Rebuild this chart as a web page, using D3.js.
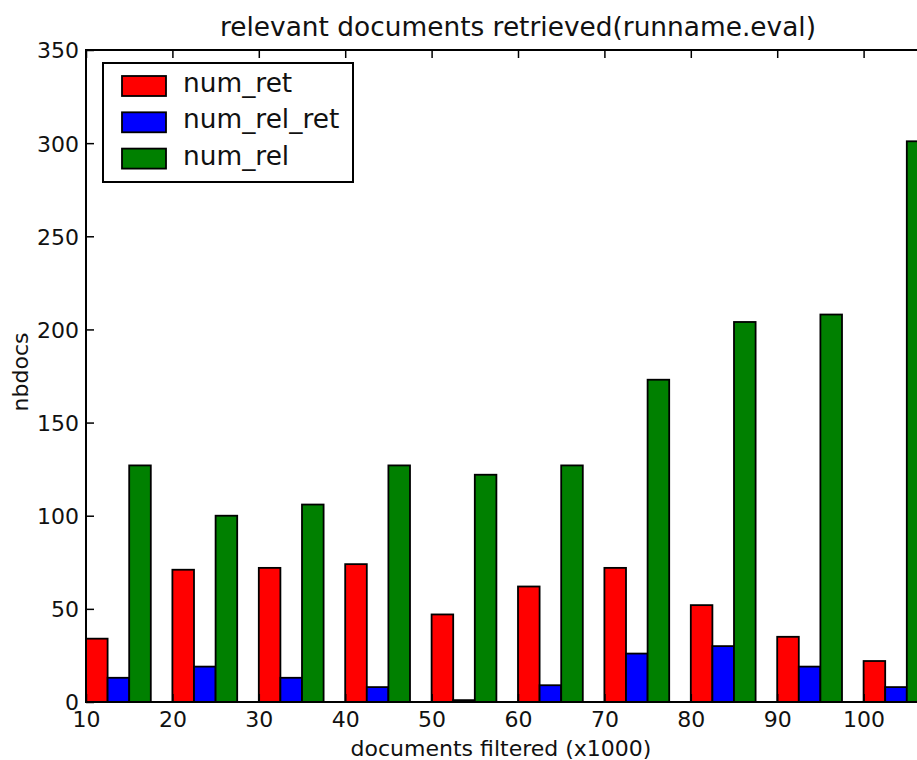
<!DOCTYPE html>
<html>
<head>
<meta charset="utf-8">
<script src="https://cdn.jsdelivr.net/npm/d3@7"></script>
<style>
    body { margin: 0; background: #fff; }
    svg { display: block; }
    text { font-family: "DejaVu Sans", Verdana, sans-serif; fill: #111; }
    .tick line { stroke: #000; stroke-width: 1.5; }
    .bar { stroke: #000; stroke-width: 1.8; }
</style>
</head>
<body>
<svg id="vis" width="917" height="760"></svg>
<script>
/**
 * magic numbers for the axes box (right side runs off the picture)
 */
const MARGINS = {top: 50, right: -33, bottom: 58, left: 86};

// x positions of each group (documents filtered, x1000)
const GROUPS = [10, 20, 30, 40, 50, 60, 70, 80, 90, 100];

// series
const NUM_RET     = [34, 71, 72, 74, 47, 62, 72, 52, 35, 22];
const NUM_REL_RET = [13, 19, 13, 8, 1, 9, 26, 30, 19, 8];
const NUM_REL     = [127, 100, 106, 127, 122, 127, 173, 204, 208, 301];

const SERIES = ["num_ret", "num_rel_ret", "num_rel"];
const COLORS = ["#ff0000", "#0000ff", "#008000"];

const X_TICKS = [10, 20, 30, 40, 50, 60, 70, 80, 90, 100];
const Y_TICKS = [0, 50, 100, 150, 200, 250, 300, 350];

const BAR_W = 2.5;   // bar width in data units

window.onload = function(){
    setup();
};

var _vis;

function setup(){
    _vis = {};
    _vis.svg = d3.select("#vis");
    _vis.width = +_vis.svg.attr("width");
    _vis.height = +_vis.svg.attr("height");

    _vis.x = d3.scaleLinear()
        .domain([10, 110])
        .range([MARGINS.left, _vis.width - MARGINS.right]);
    _vis.y = d3.scaleLinear()
        .domain([0, 350])
        .range([_vis.height - MARGINS.bottom, MARGINS.top]);

    drawBars();
    drawAxes();
    drawLegend();
}

function drawBars(){
    var values = [NUM_RET, NUM_REL_RET, NUM_REL];
    var rows = [];
    GROUPS.forEach(function(g, i){
        values.forEach(function(v, s){
            rows.push({x: g + s * BAR_W, v: v[i], s: s});
        });
    });

    _vis.svg.append("g").selectAll("rect")
        .data(rows)
        .enter()
        .append("rect")
        .attr("class", "bar")
        .attr("x", function(d){ return _vis.x(d.x); })
        .attr("width", function(d){ return _vis.x(d.x + BAR_W) - _vis.x(d.x); })
        .attr("y", function(d){ return _vis.y(d.v); })
        .attr("height", function(d){ return _vis.y(0) - _vis.y(d.v); })
        .style("fill", function(d){ return COLORS[d.s]; });
}

function drawAxes(){
    var x0 = _vis.x.range()[0], x1 = _vis.x.range()[1];
    var y0 = _vis.y.range()[0], y1 = _vis.y.range()[1];

    // ticks point inwards, matplotlib style
    var bottom = _vis.svg.append("g")
        .attr("transform", `translate(0, ${y0})`)
        .call(d3.axisBottom(_vis.x).tickValues(X_TICKS).tickSize(-8).tickPadding(9)
            .tickFormat(d3.format("d")));
    var top = _vis.svg.append("g")
        .attr("transform", `translate(0, ${y1})`)
        .call(d3.axisTop(_vis.x).tickValues(X_TICKS).tickSize(-8).tickFormat(""));
    var left = _vis.svg.append("g")
        .attr("transform", `translate(${x0}, 0)`)
        .call(d3.axisLeft(_vis.y).tickValues(Y_TICKS).tickSize(-8).tickPadding(7));

    [bottom, top, left].forEach(function(a){
        a.select(".domain").remove();
        a.selectAll("text").style("font-size", "22px").style("font-family", "DejaVu Sans").attr("fill", "#111");
    });
    left.selectAll("text").attr("dy", "0.36em");

    // the axes frame
    _vis.svg.append("rect")
        .attr("x", x0).attr("y", y1)
        .attr("width", x1 - x0).attr("height", y0 - y1)
        .style("fill", "none").style("stroke", "#000").style("stroke-width", 2);

    _vis.svg.append("text")
        .attr("x", 518).attr("y", 36)
        .style("text-anchor", "middle").style("font-size", "26.4px")
        .text("relevant documents retrieved(runname.eval)");

    _vis.svg.append("text")
        .attr("x", 501).attr("y", 756)
        .style("text-anchor", "middle").style("font-size", "22px")
        .text("documents filtered (x1000)");

    _vis.svg.append("text")
        .attr("transform", "translate(28, 372) rotate(-90)")
        .style("text-anchor", "middle").style("font-size", "22px")
        .text("nbdocs");
}

function drawLegend(){
    var lg = _vis.svg.append("g")
        .attr("transform", "translate(103, 63)");

    lg.append("rect")
        .attr("width", 250).attr("height", 119)
        .style("fill", "#fff").style("stroke", "#000").style("stroke-width", 2);

    var items = lg.selectAll(".item")
        .data(SERIES)
        .enter()
        .append("g")
        .attr("class", "item")
        .attr("transform", function(d, i){ return `translate(19, ${23 + i * 36.3})`; });

    items.append("rect")
        .attr("class", "bar")
        .attr("y", -10).attr("width", 44).attr("height", 20)
        .style("fill", function(d, i){ return COLORS[i]; });

    items.append("text")
        .attr("x", 61).attr("y", 6)
        .style("font-size", "26.4px")
        .text(function(d){ return d; });
}
</script>
</body>
</html>
